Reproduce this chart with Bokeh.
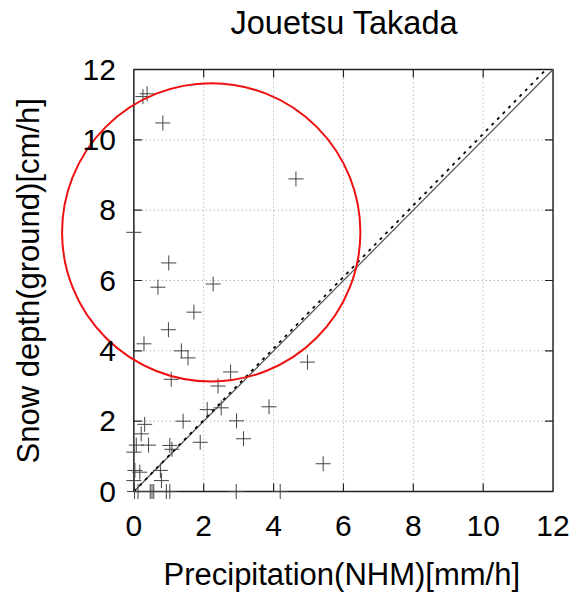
from bokeh.plotting import figure
from bokeh.models import Range1d, LinearAxis, FixedTicker, Title, ColumnDataSource
from bokeh.embed import file_html
from bokeh.resources import INLINE

# ---------------- data ----------------
precip = [0.26, 0.38, 0.83, 4.64, 0.00, 1.00, 2.27, 0.69, 1.72, 0.99,
          0.29, 1.36, 1.55, 2.77, 1.07, 2.41, 4.97, 2.10, 2.50, 3.87,
          2.94, 3.14, 1.41, 1.90, 0.31, 0.21, 0.42, 0.07, 0.00, 1.03,
          1.09, 5.42, 0.76, 0.79, 0.03, 0.17, 0.00, 0.02, 0.12, 0.47,
          0.52, 0.57, 0.93, 1.03, 2.93, 4.19]
snow = [11.23, 11.31, 10.48, 8.89, 7.37, 6.50, 5.90, 5.81, 5.10, 4.60,
        4.20, 4.00, 3.80, 3.40, 3.19, 3.00, 3.68, 2.33, 2.38, 2.41,
        2.01, 1.50, 2.00, 1.40, 1.91, 1.64, 1.32, 1.32, 1.12, 1.31,
        1.20, 0.79, 0.60, 0.31, 0.60, 0.55, 0.31, 0.00, 0.00, 0.00,
        0.00, 0.00, 0.00, 0.00, 0.00, 0.00]

axis_ticks = [0, 2, 4, 6, 8, 10, 12]
grid_ticks = [2, 4, 6, 8, 10]
axis_min, axis_max = 0, 12

one_to_one = [0, 12]          # 1:1 line
fit_slope = 1.017             # dashed regression line (through origin)
fit_x = [0, 12 / fit_slope]
fit_y = [x * fit_slope for x in fit_x]

circle_center = (2.215, 7.37)   # highlighted cluster
circle_diam = (8.54, 8.48)

title_text = "Jouetsu Takada"
xlabel = "Precipitation(NHM)[mm/h]"
ylabel = "Snow depth(ground)[cm/h]"

FONT = "Liberation Sans"
FRAME = "#222222"

# ---------------- figure ----------------
p = figure(frame_width=517, frame_height=510,
           x_range=Range1d(-2.30, 12.5), y_range=Range1d(-1.734, 12.768),
           x_axis_location=None, y_axis_location=None,
           min_border_left=53, min_border_right=4, min_border_top=41, min_border_bottom=0,
           output_backend="svg", toolbar_location=None,
           outline_line_color=None, background_fill_color="white", border_fill_color="white")
p.grid.visible = False

p.title = Title(text=title_text, align="left", offset=177, text_font_size="32.5px",
                text_font=FONT, text_font_style="normal", text_color="black", standoff=4)

# tick lengths in data units (8 px)
tlx = 8 / 34.917
tly = 8 / 35.167

# grid lines (dotted)
p.segment(x0=grid_ticks, y0=[axis_min] * len(grid_ticks), x1=grid_ticks, y1=[axis_max] * len(grid_ticks),
          line_color="#9a9a9a", line_dash="1 3", line_width=1)
p.segment(x0=[axis_min] * len(grid_ticks), y0=grid_ticks, x1=[axis_max] * len(grid_ticks), y1=grid_ticks,
          line_color="#9a9a9a", line_dash="1 3", line_width=1)

# inward ticks on all four sides
n = len(grid_ticks)
p.segment(x0=grid_ticks, y0=[axis_min] * n, x1=grid_ticks, y1=[axis_min + tly] * n, line_color=FRAME, line_width=1.2)
p.segment(x0=grid_ticks, y0=[axis_max] * n, x1=grid_ticks, y1=[axis_max - tly] * n, line_color=FRAME, line_width=1.2)
p.segment(x0=[axis_min] * n, y0=grid_ticks, x1=[axis_min + tlx] * n, y1=grid_ticks, line_color=FRAME, line_width=1.2)
p.segment(x0=[axis_max] * n, y0=grid_ticks, x1=[axis_max - tlx] * n, y1=grid_ticks, line_color=FRAME, line_width=1.2)

# frame box
p.quad(left=[axis_min], right=[axis_max], bottom=[axis_min], top=[axis_max],
       fill_color=None, line_color=FRAME, line_width=1.5)


def label_axis(ax, standoff):
    ax.ticker = FixedTicker(ticks=axis_ticks)
    ax.bounds = (axis_min, axis_max)
    ax.axis_line_color = None
    ax.major_tick_in = 0
    ax.major_tick_out = 0
    ax.minor_tick_in = 0
    ax.minor_tick_out = 0
    ax.major_label_text_font = FONT
    ax.major_label_text_font_size = "30px"
    ax.major_label_text_color = "black"
    ax.major_label_standoff = standoff


left_ax = LinearAxis(fixed_location=0)
label_axis(left_ax, 18)
p.add_layout(left_ax, "left")

bottom_ax = LinearAxis(fixed_location=0)
label_axis(bottom_ax, 24)
p.add_layout(bottom_ax, "below")

# axis titles
p.add_layout(Title(text=xlabel, align="left", offset=110, text_font_size="31px",
                   text_font=FONT, text_font_style="normal", text_color="black", standoff=4), "below")
p.add_layout(Title(text=ylabel, align="left", offset=89, text_font_size="31px",
                   text_font=FONT, text_font_style="normal", text_color="black", standoff=16), "left")

# lines
p.line(one_to_one, one_to_one, line_color="#555555", line_width=1.2)
p.line(fit_x, fit_y, line_color="black", line_width=1.8, line_dash="3 5")

# points
src = ColumnDataSource(dict(x=precip, y=snow))
p.scatter("x", "y", source=src, marker="cross", size=15, line_color="#444444", line_width=1)

# circle
p.ellipse(x=[circle_center[0]], y=[circle_center[1]], width=[circle_diam[0]], height=[circle_diam[1]],
          fill_color=None, line_color="#ee1111", line_width=2)

open("out.html", "w").write(file_html(p, INLINE))
